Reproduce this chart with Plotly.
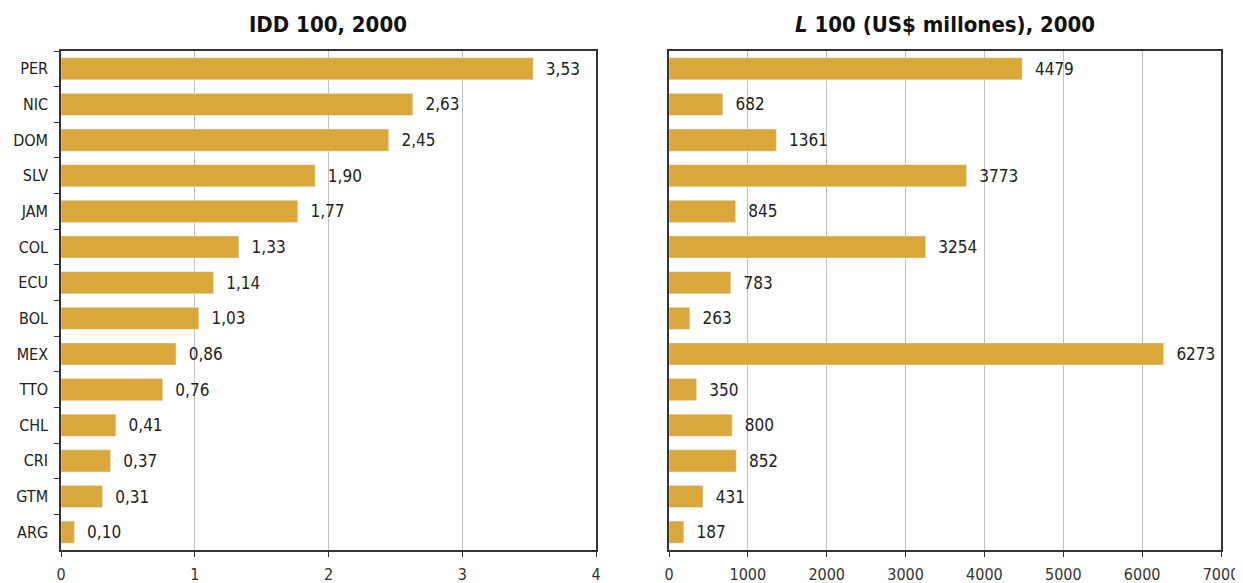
import plotly.graph_objects as go

countries = ["PER", "NIC", "DOM", "SLV", "JAM", "COL", "ECU", "BOL",
             "MEX", "TTO", "CHL", "CRI", "GTM", "ARG"]
idd_100 = [3.53, 2.63, 2.45, 1.90, 1.77, 1.33, 1.14, 1.03,
           0.86, 0.76, 0.41, 0.37, 0.31, 0.10]
l_100 = [4479, 682, 1361, 3773, 845, 3254, 783, 263,
         6273, 350, 800, 852, 431, 187]

BAR = "#DAA73B"
FONT = "DejaVu Sans Condensed, Liberation Sans Narrow, Arial Narrow, sans-serif"
PAD = "\u00a0\u00a0"
W, H = 1243, 583
OFF = 8  # page offset of the plot div


def px_x(v):
    return (v - OFF) / W


def px_y(v):
    return 1 - (v - OFF) / H


fig = go.Figure()
fig.add_trace(go.Bar(
    x=idd_100, y=countries, orientation="h", marker_color=BAR,
    width=0.62, text=[PAD + f"{v:.2f}".replace(".", ",") for v in idd_100],
    textposition="outside", cliponaxis=False,
    textfont=dict(size=17, color="#222"), xaxis="x", yaxis="y",
))
fig.add_trace(go.Bar(
    x=l_100, y=countries, orientation="h", marker_color=BAR,
    width=0.62, text=[PAD + str(v) for v in l_100],
    textposition="outside", cliponaxis=False,
    textfont=dict(size=17, color="#222"), xaxis="x2", yaxis="y2",
))

axis_common = dict(
    showline=True, linecolor="#333", linewidth=1.5, mirror=True,
    showgrid=True, gridcolor="#C2C2C2", gridwidth=1,
    ticks="outside", ticklen=5, tickcolor="#333",
    tickfont=dict(size=16, color="#333"), zeroline=False,
    ticklabelstandoff=4, automargin=False,
)
y_dom = [px_y(550), px_y(51)]
fig.update_layout(
    width=W, height=H,
    margin=dict(l=0, r=0, t=0, b=0),
    paper_bgcolor="white", plot_bgcolor="white",
    font=dict(family=FONT, color="#222"),
    showlegend=False,
    xaxis=dict(domain=[px_x(61), px_x(596)], range=[0, 4], dtick=1,
               **axis_common),
    yaxis=dict(domain=y_dom, autorange="reversed",
               showline=True, linecolor="#333", linewidth=1.5, mirror=True,
               ticks="outside", tickson="boundaries", ticklen=5,
               tickcolor="#333", tickfont=dict(size=16, color="#222"),
               ticklabelstandoff=8, showgrid=False, automargin=False),
    xaxis2=dict(domain=[px_x(669), px_x(1221)], range=[0, 7000], dtick=1000,
                anchor="y2", **axis_common),
    yaxis2=dict(domain=y_dom, autorange="reversed", anchor="x2",
                showline=True, linecolor="#333", linewidth=1.5, mirror=True,
                showticklabels=False, ticks="", showgrid=False,
                automargin=False),
    annotations=[
        dict(text="<b>IDD 100, 2000</b>", x=px_x(328), y=px_y(25),
             xref="paper", yref="paper", xanchor="center", yanchor="middle",
             showarrow=False, font=dict(size=22, color="#111")),
        dict(text="<b><i>L</i> 100 (US$ millones), 2000</b>", x=px_x(945),
             y=px_y(25), xref="paper", yref="paper", xanchor="center",
             yanchor="middle", showarrow=False,
             font=dict(size=22, color="#111")),
    ],
)

fig.write_html("out.html")
